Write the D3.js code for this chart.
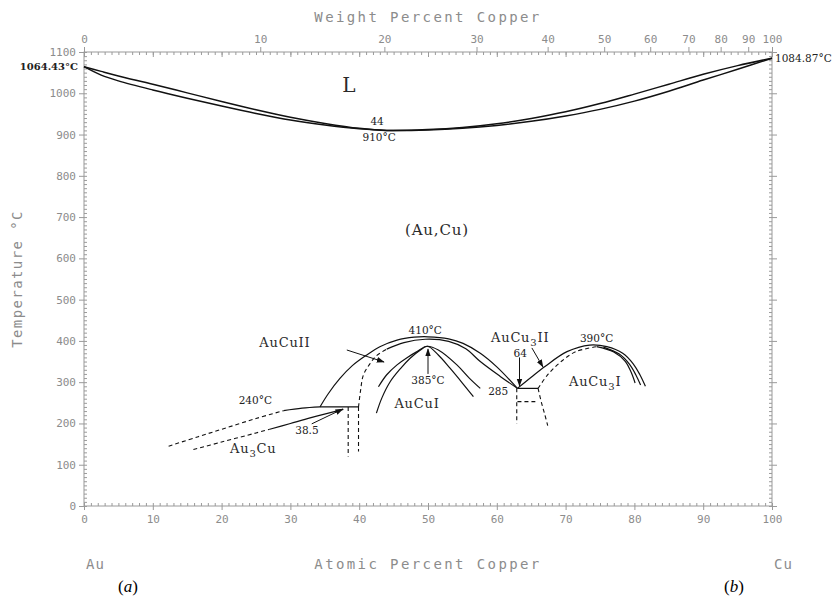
<!DOCTYPE html>
<html>
<head>
<meta charset="utf-8">
<script src="https://cdn.jsdelivr.net/npm/d3@7"></script>
<style>
body { margin: 0; background: #fff; }
svg { display: block; }
.tick text { font-family: 'DejaVu Sans Mono', monospace; font-size: 11px; fill: #8c8c8c; }
.tick line { stroke: #9a9a9a; }
.axis-title { font-family: 'DejaVu Sans Mono', monospace; font-size: 14px; fill: #8c8c8c; letter-spacing: 2.4px; }
.phase { font-family: 'DejaVu Serif', serif; fill: #2a2a2a; }
.note { font-family: 'DejaVu Serif', serif; font-size: 10.5px; fill: #222; }
</style>
</head>
<body>
<svg width="840" height="601"></svg>
<script>
// liquidus / solidus, [at% Cu, °C]
const liquidus = [[0,1064.4],[2.5,1053],[5,1042],[10,1022],[15,1001],[20,980],[25,960],[30,942],[35,927],[40,915],[44,910],[50,912],[55,917],[60,926],[65,939],[70,955],[75,975],[80,998],[85,1022],[90,1046],[95,1067],[100,1084.9]];
const solidus = [[0,1064.4],[2.5,1044],[5,1030],[10,1008],[15,988],[20,969],[25,951],[30,935],[35,923],[40,914],[44,910],[50,911],[55,915],[60,922],[65,932],[70,945],[75,961],[80,981],[85,1005],[90,1032],[95,1058],[100,1084.9]];

// ordered phases
const au3cuUpperDash = [[12.3,145],[16.6,168],[20.8,190],[25,212],[29,231]];
const au3cuUpperSolid = [[29,231],[31.7,237],[34.3,240]];
const au3cuLowerDash = [[15.9,137],[20,155],[25,177],[27,186]];
const au3cuLowerSolid = [[27,186],[30,200],[33,214],[37.7,234]];
const plateau240 = [[34.3,240],[39.9,240]];
const vertA = [[38.4,240],[38.4,120]];
const vertB = [[39.9,240],[39.9,132]];
const aucu2Outer = [[34.3,240],[35.5,272],[37.2,309],[39,340],[41.1,366],[43,386],[45.5,402],[48,409],[50,410],[53,405],[55.1,394],[57.6,370],[60,337],[63,285]];
const aucu2InnerDash = [[39.9,240],[40.2,280],[40.6,317],[41.5,343],[42.5,364],[44,380]];
const aucu2InnerSolid = [[44,380],[46.5,396],[49.6,404],[53,399],[55.5,381],[57.6,350],[60.5,314],[63,285]];
const aucu1A = [[42.5,225],[43.3,262],[44.5,301],[46,333],[47.4,358],[48.8,377],[49.9,387],[51.5,378],[54.2,342],[56,310],[57.6,285]];
const aucu1B = [[42.8,289],[44,318],[45.5,342],[47,360],[48.4,374],[49.9,387],[51.5,366],[53.2,334],[55,298],[56.6,265]];
const aucu3Outer = [[63,285],[65,312],[67,338],[70.2,374],[73.5,390],[76,386],[78.3,370],[79.8,345],[80.8,318],[81.6,290]];
const aucu3InnerLeft = [[66,285],[67.5,320],[69.5,352],[71.5,374],[74.5,386]];
const aucu3InnerA = [[74.5,386],[77,373],[78.7,350],[79.5,325],[80.1,298]];
const aucu3InnerB = [[75.5,385],[77.8,368],[79.3,343],[80.2,318],[80.9,293]];
const plateau285 = [[63,285],[66,285]];
const vertC = [[62.9,285],[62.9,200]];
const horizC = [[63,253],[65.6,253]];
const aucu3DashCurve = [[66,285],[66.5,250],[67,220],[67.4,195]];

// axis ticks
const atLabels = [0,10,20,30,40,50,60,70,80,90,100];
const tempLabels = [0,100,200,300,400,500,600,700,800,900,1000,1100];
const wtLabels = [0,10,20,30,40,50,60,70,80,90,100];

// text labels
const phaseLabels = [
    { x: 38.5, t: 1020, parts: [['L']], size: 20 },
    { x: 51.3, t: 669, parts: [['(Au,Cu)']], size: 15 },
    { x: 29.2, t: 397, parts: [['AuCuII']], size: 13 },
    { x: 48.4, t: 249, parts: [['AuCuI']], size: 13 },
    { x: 24.6, t: 140, parts: [['Au'], ['3', 'sub'], ['Cu']], size: 13 },
    { x: 63.4, t: 409, parts: [['AuCu'], ['3', 'sub'], ['II']], size: 13 },
    { x: 74.3, t: 301, parts: [['AuCu'], ['3', 'sub'], ['I']], size: 13 },
];
const notes = [
    [42.6, 931, '44'], [42.9, 894, '910°C'], [24.9, 257, '240°C'], [32.4, 184, '38.5'],
    [49.6, 426, '410°C'], [50, 305, '385°C'], [63.4, 370, '64'], [60.2, 277, '285'], [74.5, 406, '390°C'],
];
const arrows = [
    [[38.2,378],[43.6,349]],
    [[33.1,199],[37.6,235]],
    [[50,320],[50,380]],
    [[63.3,360],[63.3,291]],
    [[65.1,383],[66.7,337]],
];

const svg = d3.select('svg');
const width = +svg.attr('width');
const height = +svg.attr('height');
const margin = { top: 52, right: 68, bottom: 95, left: 84 };

const x = d3.scaleLinear().domain([0, 100]).range([margin.left, width - margin.right]);
const y = d3.scaleLinear().domain([0, 1100]).range([height - margin.bottom, margin.top]);

// weight % -> atomic % Cu
const mCu = 63.546, mAu = 196.967;
const wtToAt = (w) => 100 * (w / mCu) / (w / mCu + (100 - w) / mAu);
const wtDomain = d3.range(0, 101);
const xWt = d3.scaleLinear().domain(wtDomain).range(wtDomain.map((w) => x(wtToAt(w))));

const x0 = x(0), x1 = x(100), y0 = y(0), y1 = y(1100);
const fmt = d3.format('d');

// frame
svg.append('rect')
    .attr('x', x0).attr('y', y1)
    .attr('width', x1 - x0).attr('height', y0 - y1)
    .attr('fill', 'none').attr('stroke', '#9a9a9a').attr('stroke-width', 1);

const addAxis = (axis, tx, ty) => {
    const g = svg.append('g').attr('transform', `translate(${tx},${ty})`).call(axis);
    g.select('.domain').remove();
    return g;
};

// bottom
addAxis(d3.axisBottom(x).tickValues(atLabels).tickSize(4).tickPadding(5).tickFormat(fmt), 0, y0);
addAxis(d3.axisTop(x).tickValues(d3.range(0, 101, 1)).tickSize(3).tickFormat(''), 0, y0);
// top (weight % labels, atomic % minor ticks)
addAxis(d3.axisTop(xWt).tickValues(wtLabels).tickSize(5).tickPadding(4).tickFormat(fmt), 0, y1);
addAxis(d3.axisBottom(x).tickValues(d3.range(0, 101, 1)).tickSize(3).tickFormat(''), 0, y1);
addAxis(d3.axisBottom(x).tickValues(atLabels).tickSize(5).tickFormat(''), 0, y1);
// left
addAxis(d3.axisLeft(y).tickValues(tempLabels).tickSize(5).tickPadding(3).tickFormat(fmt), x0, 0);
addAxis(d3.axisRight(y).tickValues(d3.range(0, 1101, 10)).tickSize(3).tickFormat(''), x0, 0);
// right
addAxis(d3.axisRight(y).tickValues(tempLabels).tickSize(5).tickFormat(''), x1, 0);
addAxis(d3.axisLeft(y).tickValues(d3.range(0, 1101, 10)).tickSize(3).tickFormat(''), x1, 0);

svg.selectAll('.tick line').attr('stroke', '#9a9a9a');

// axis titles
svg.append('text').attr('class', 'axis-title')
    .attr('x', (x0 + x1) / 2).attr('y', 22).attr('text-anchor', 'middle')
    .text('Weight Percent Copper');
svg.append('text').attr('class', 'axis-title')
    .attr('x', (x0 + x1) / 2).attr('y', 569).attr('text-anchor', 'middle')
    .text('Atomic Percent Copper');
svg.append('text').attr('class', 'axis-title')
    .attr('x', x0 + 2).attr('y', 569).style('letter-spacing', '1px')
    .text('Au');
svg.append('text').attr('class', 'axis-title')
    .attr('x', x1 + 2).attr('y', 569).style('letter-spacing', '1px')
    .text('Cu');
svg.append('text').attr('class', 'axis-title')
    .attr('transform', `translate(22, ${(y0 + y1) / 2}) rotate(-90)`)
    .attr('text-anchor', 'middle').style('letter-spacing', '1.4px')
    .text('Temperature °C');

// melting points
svg.append('text').attr('class', 'note')
    .attr('x', x0 - 6).attr('y', y(1064.4)).attr('dy', '0.35em')
    .attr('text-anchor', 'end').style('font-weight', 'bold').style('font-size', '10px')
    .text('1064.43°C');
svg.append('text').attr('class', 'note')
    .attr('x', x1 + 3).attr('y', y(1084.9)).attr('dy', '0.35em')
    .style('font-size', '10.5px')
    .text('1084.87°C');

// curves
const line = d3.line()
    .x((d) => x(d[0]))
    .y((d) => y(d[1]))
    .curve(d3.curveCatmullRom.alpha(0.5));
const straight = d3.line().x((d) => x(d[0])).y((d) => y(d[1]));

const solidCurves = [liquidus, solidus, au3cuUpperSolid, au3cuLowerSolid, aucu2Outer, aucu2InnerSolid,
    aucu1A, aucu1B, aucu3Outer, aucu3InnerA, aucu3InnerB];
const dashedCurves = [au3cuUpperDash, au3cuLowerDash, aucu2InnerDash, aucu3InnerLeft, aucu3DashCurve];
const solidStraight = [plateau240, plateau285];
const dashedStraight = [vertA, vertB, vertC, horizC];

const curves = svg.append('g').attr('fill', 'none').attr('stroke', '#111');
curves.selectAll('.solid').data(solidCurves).enter().append('path')
    .attr('d', line).attr('stroke-width', (d, i) => (i < 2 ? 1.5 : 1.2));
curves.selectAll('.dashed').data(dashedCurves).enter().append('path')
    .attr('d', line).attr('stroke-width', 1.1).attr('stroke-dasharray', '4,3');
curves.selectAll('.solid-s').data(solidStraight).enter().append('path')
    .attr('d', straight).attr('stroke-width', 1.2);
curves.selectAll('.dashed-s').data(dashedStraight).enter().append('path')
    .attr('d', straight).attr('stroke-width', 1.1).attr('stroke-dasharray', '4,3');

// arrows
svg.append('defs').append('marker')
    .attr('id', 'head').attr('viewBox', '0 0 10 10')
    .attr('refX', 9).attr('refY', 5)
    .attr('markerWidth', 8).attr('markerHeight', 8)
    .attr('orient', 'auto')
    .append('path').attr('d', 'M0,1.5 L10,5 L0,8.5 Z').attr('fill', '#111');
svg.append('g').selectAll('path').data(arrows).enter().append('path')
    .attr('d', straight)
    .attr('stroke', '#111').attr('stroke-width', 1)
    .attr('marker-end', 'url(#head)');

// labels
svg.append('g').selectAll('text').data(notes).enter().append('text')
    .attr('class', 'note')
    .attr('x', (d) => x(d[0])).attr('y', (d) => y(d[1])).attr('dy', '0.35em')
    .attr('text-anchor', 'middle')
    .text((d) => d[2]);

phaseLabels.forEach((p) => {
    const t = svg.append('text').attr('class', 'phase')
        .attr('x', x(p.x)).attr('y', y(p.t)).attr('dy', '0.35em')
        .attr('text-anchor', 'middle')
        .style('font-size', `${p.size}px`)
        .style('letter-spacing', p.size < 16 ? '0.8px' : '0');
    p.parts.forEach((part, i) => {
        if (part[1] === 'sub') {
            t.append('tspan').attr('dy', 4).style('font-size', `${p.size - 3}px`).text(part[0]);
        } else {
            const s = t.append('tspan').text(part[0]);
            if (i > 0) s.attr('dy', -4);
        }
    });
});

// panel marks
svg.append('text').attr('x', 128).attr('y', 592).attr('text-anchor', 'middle')
    .style('font-family', "'Liberation Serif', serif").style('font-size', '17px')
    .html('(<tspan font-style="italic">a</tspan>)');
svg.append('text').attr('x', 734).attr('y', 592).attr('text-anchor', 'middle')
    .style('font-family', "'Liberation Serif', serif").style('font-size', '17px')
    .html('(<tspan font-style="italic">b</tspan>)');
</script>
</body>
</html>
